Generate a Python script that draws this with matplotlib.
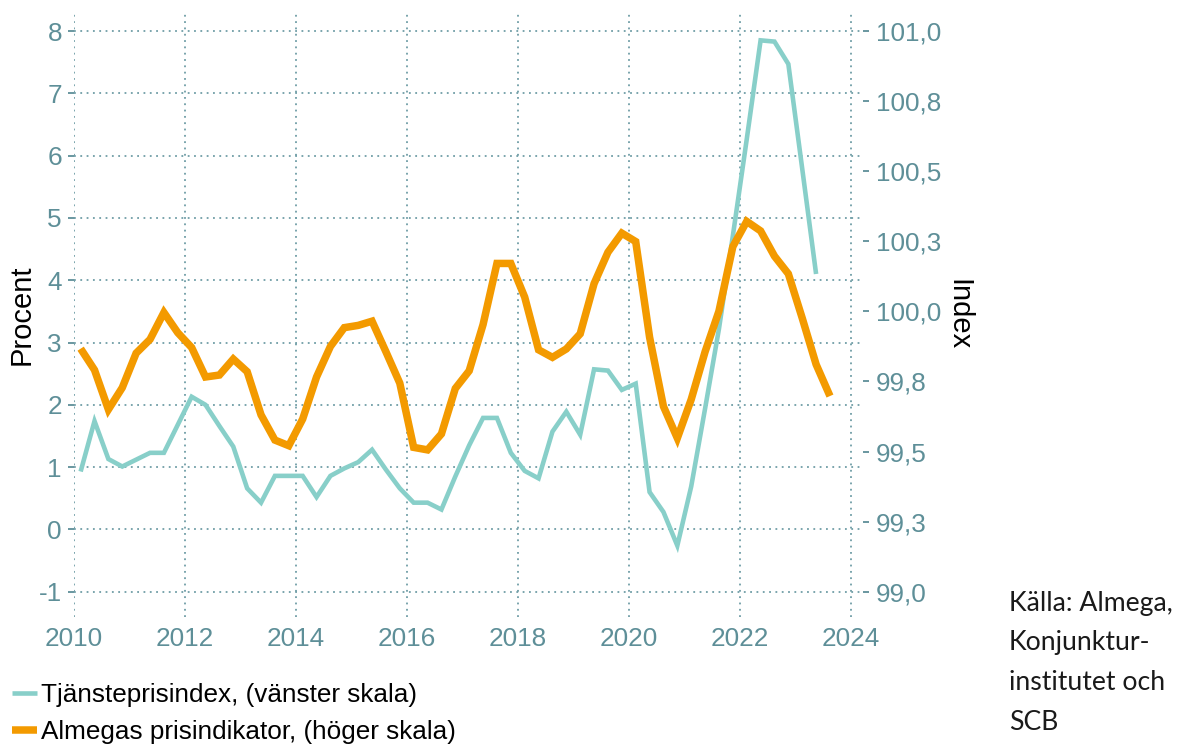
import matplotlib
matplotlib.use("Agg")
import matplotlib.pyplot as plt
from matplotlib.font_manager import FontProperties, fontManager
import pandas as pd

# ---------------- data ----------------
quarters_tpi = pd.period_range("2010Q1", periods=54, freq="Q")
quarters_api = pd.period_range("2010Q1", periods=55, freq="Q")

tjansteprisindex = [0.93, 1.74, 1.13, 1.01, 1.12, 1.23, 1.23, 1.68, 2.13, 2.00,
                    1.66, 1.33, 0.66, 0.43, 0.86, 0.86, 0.86, 0.52, 0.86, 0.98,
                    1.08, 1.28, 0.96, 0.66, 0.43, 0.43, 0.32, 0.85, 1.35, 1.79,
                    1.79, 1.23, 0.94, 0.82, 1.57, 1.89, 1.52, 2.57, 2.55, 2.24,
                    2.34, 0.60, 0.28, -0.26, 0.69, 1.94, 3.22, 4.71, 6.26, 7.85,
                    7.83, 7.47, 5.79, 4.10]

almega_index = [99.867, 99.791, 99.650, 99.728, 99.851, 99.900, 99.996, 99.924,
                99.871, 99.766, 99.773, 99.830, 99.785, 99.631, 99.541, 99.521,
                99.616, 99.766, 99.875, 99.942, 99.950, 99.965, 99.856, 99.744,
                99.515, 99.506, 99.563, 99.725, 99.788, 99.953, 100.171, 100.171,
                100.051, 99.863, 99.836, 99.866, 99.920, 100.099, 100.211, 100.279,
                100.249, 99.908, 99.661, 99.548, 99.686, 99.856, 100.001, 100.231,
                100.321, 100.287, 100.197, 100.134, 99.976, 99.811, 99.698]

x_ticks = [2010, 2012, 2014, 2016, 2018, 2020, 2022, 2024]
left_ticks = [-1, 0, 1, 2, 3, 4, 5, 6, 7, 8]
left_ticklabels = ["-1", "0", "1", "2", "3", "4", "5", "6", "7", "8"]
right_ticks = [99.0, 99.25, 99.5, 99.75, 100.0, 100.25, 100.5, 100.75, 101.0]
right_ticklabels = ["99,0", "99,3", "99,5", "99,8", "100,0", "100,3", "100,5", "100,8", "101,0"]

label_tpi = "Tjänsteprisindex, (vänster skala)"
label_api = "Almegas prisindikator, (höger skala)"
source_lines = ["Källa: Almega,", "Konjunktur-", "institutet och", "SCB"]


def to_decimal_year(periods):
    return [p.year + (p.quarter - 0.5) / 4.0 for p in periods]


x_tpi = to_decimal_year(quarters_tpi)
x_api = to_decimal_year(quarters_api)

# ---------------- style ----------------
names = {f.name for f in fontManager.ttflist}
if "Liberation Sans Narrow" in names:
    narrow, narrow_size = ["Liberation Sans Narrow", "Liberation Sans", "DejaVu Sans"], 21.6
else:
    narrow, narrow_size = ["Liberation Sans", "DejaVu Sans"], 18.8

TEAL = "#88CFC9"
ORANGE = "#F39A00"
AXC = "#5E8F98"
GRIDC = "#6F9DA6"

tick_fp = FontProperties(family=narrow, size=narrow_size)
legend_fp = FontProperties(family=narrow, size=narrow_size)
label_fp = FontProperties(family=["Liberation Sans", "DejaVu Sans"], size=21)

W, H = 1182, 749
fig = plt.figure(figsize=(W / 100, H / 100), dpi=100)
left_px, right_px, top_px, bot_px = 73.7, 863, 12, 617
ax = fig.add_axes([left_px / W, 1 - bot_px / H, (right_px - left_px) / W, (bot_px - top_px) / H])
ax2 = ax.twinx()

ylim_l = (-1.405, 8.305)
ax.set_ylim(*ylim_l)
ax2.set_ylim(99 + (ylim_l[0] + 1) * 2 / 9, 99 + (ylim_l[1] + 1) * 2 / 9)
ax.set_xlim(2010, 2024.22)

ax.plot(x_tpi, tjansteprisindex, color=TEAL, lw=3.3, solid_capstyle="butt",
        solid_joinstyle="miter", label=label_tpi, zorder=3)
ax2.plot(x_api, almega_index, color=ORANGE, lw=5.4, solid_capstyle="butt",
         solid_joinstyle="miter", label=label_api, zorder=3)

for a in (ax, ax2):
    for s in a.spines.values():
        s.set_visible(False)

ax.set_xticks(x_ticks)
ax.set_xticklabels([str(t) for t in x_ticks], fontproperties=tick_fp, color=AXC)
ax.tick_params(axis="x", length=0, pad=7)

ax.set_yticks(left_ticks)
ax.set_yticklabels(left_ticklabels, fontproperties=tick_fp, color=AXC)
ax.tick_params(axis="y", length=4, width=1.3, color=AXC, pad=4.5)

ax2.set_yticks(right_ticks)
ax2.set_yticklabels(right_ticklabels, fontproperties=tick_fp, color=AXC)
ax2.tick_params(axis="y", length=4, width=1.3, color=AXC, pad=5.5)

ax.grid(True, which="major", color=GRIDC, linestyle=(0, (1, 2.5)), lw=1.3)
ax.set_axisbelow(True)

ax.set_ylabel("Procent", fontproperties=label_fp, color="black", va="center")
ax.yaxis.set_label_coords((22 - left_px) / (right_px - left_px), 0.5)
ax2.set_ylabel("Index", fontproperties=label_fp, color="black", rotation=270, va="center")
ax2.yaxis.set_label_coords((958 - left_px) / (right_px - left_px), 0.5)

h1, l1 = ax.get_legend_handles_labels()
h2, l2 = ax2.get_legend_handles_labels()
fig.legend(h1 + h2, l1 + l2, loc="center left", bbox_to_anchor=(12 / W, 1 - 713.5 / H),
           frameon=False, prop=legend_fp, borderpad=0, borderaxespad=0,
           handlelength=0.95, handletextpad=0.16, labelspacing=0.5)

src_fp = FontProperties(family=["Lato", "DejaVu Sans"], size=19.2)
for i, line in enumerate(source_lines):
    fig.text(1009 / W, 1 - (603 + 39.7 * i) / H, line, fontproperties=src_fp,
             color="#1a1a1a", ha="left", va="center")

fig.savefig("out.png", dpi=100)
